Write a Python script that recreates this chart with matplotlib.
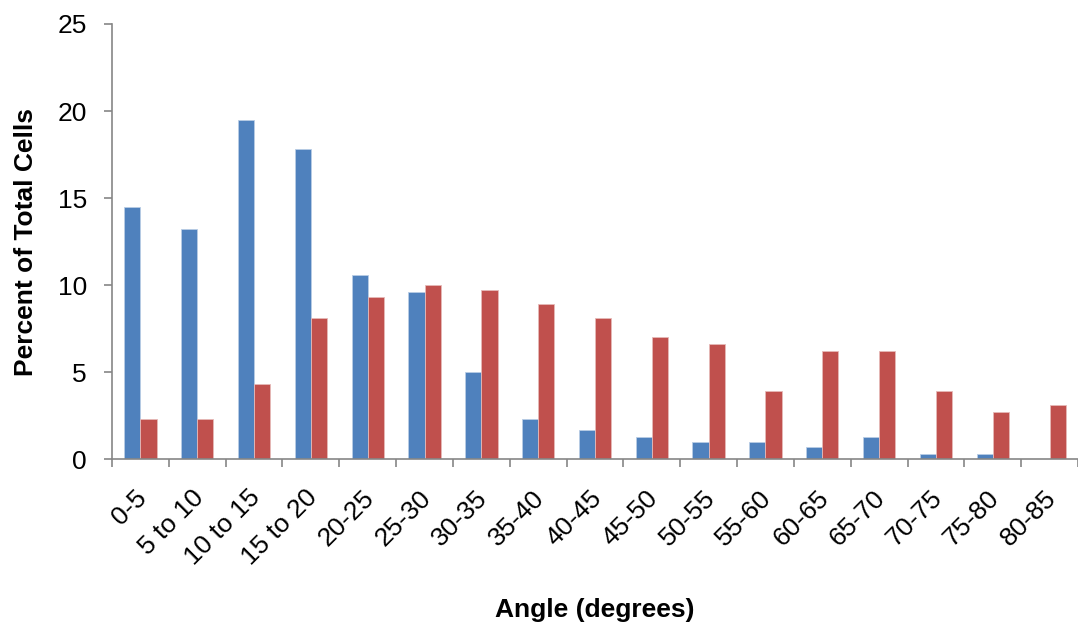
import numpy as np
import matplotlib.pyplot as plt
from matplotlib.transforms import ScaledTranslation

plt.rcParams['font.family'] = ['Liberation Sans', 'DejaVu Sans']

# angle bins and percent of cells in each bin
bins = ['0-5', '5 to 10', '10 to 15', '15 to 20', '20-25', '25-30', '30-35',
        '35-40', '40-45', '45-50', '50-55', '55-60', '60-65', '65-70',
        '70-75', '75-80', '80-85']
blue_vals = [14.5, 13.2, 19.5, 17.8, 10.6, 9.6, 5.0, 2.3, 1.7, 1.3, 1.0,
             1.0, 0.7, 1.3, 0.3, 0.3, 0.0]
red_vals = [2.3, 2.3, 4.3, 8.1, 9.3, 10.0, 9.7, 8.9, 8.1, 7.0, 6.6,
            3.9, 6.2, 6.2, 3.9, 2.7, 3.1]

axis_grey = '#868686'
fs = 19

fig = plt.figure(figsize=(10.78, 6.23), dpi=100)
ax = fig.add_axes([0.1039, 0.263, 0.8961, 0.6985])

x = np.arange(len(bins))
w = 0.285
ax.bar(x - w / 2, blue_vals, w, color='#4F81BD', edgecolor='#B9CDE5', linewidth=0.6)
ax.bar(x + w / 2, red_vals, w, color='#C0504D', edgecolor='#E6B9B8', linewidth=0.6)

ax.set_xlim(-0.5, 16.33)
ax.set_ylim(0, 25)
ax.set_yticks([0, 5, 10, 15, 20, 25])

ax.set_xticks(x)
ax.set_xticklabels(bins, rotation=45, ha='right', va='top', rotation_mode='anchor')
ax.set_xticks(np.arange(-0.5, len(bins), 1.0), minor=True)
ax.tick_params(axis='x', which='major', length=0, pad=19, labelsize=fs)
ax.tick_params(axis='x', which='minor', length=6, width=1.2, color=axis_grey)
ax.tick_params(axis='y', length=6, width=1.2, color=axis_grey, pad=12, labelsize=fs)

# nudge the slanted labels so their ends sit under the category centres
shift = ScaledTranslation(-0.06, 0.0, fig.dpi_scale_trans)
for lab in ax.get_xticklabels():
    lab.set_transform(lab.get_transform() + shift)

for side in ['top', 'right']:
    ax.spines[side].set_visible(False)
for side in ['left', 'bottom']:
    ax.spines[side].set_color(axis_grey)
    ax.spines[side].set_linewidth(1.2)

ax.set_ylabel('Percent of Total Cells', fontsize=fs, fontweight='bold', labelpad=14)
ax.set_xlabel('Angle (degrees)', fontsize=fs, fontweight='bold', labelpad=20)

fig.savefig('out.png', dpi=100)
